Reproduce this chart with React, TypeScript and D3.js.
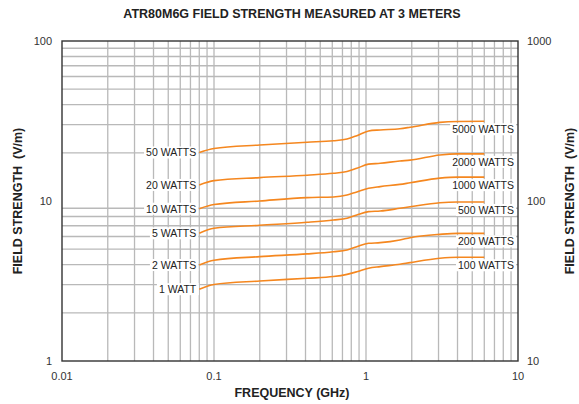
import React, { useEffect, useRef } from "react";
import * as d3 from "d3";

// Frequency sample points (GHz) shared by every power curve
const freqs = [0.08, 0.1, 0.2, 0.41, 0.61, 0.75, 0.87, 1.04, 1.24, 1.67, 1.95, 3.06, 4, 6];

// Field strength (V/m, left axis) for each input power
const w50 = [20.1, 21.3, 22.4, 23.3, 23.8, 24.4, 25.6, 27.4, 27.8, 28.3, 28.9, 31.0, 31.4, 31.5];
const w20 = [12.6, 13.4, 14.0, 14.5, 14.9, 15.3, 16.0, 17.0, 17.2, 17.8, 18.0, 19.4, 19.7, 19.7];
const w10 = [8.95, 9.5, 10.0, 10.5, 10.6, 10.9, 11.4, 12.0, 12.3, 12.7, 13.0, 13.9, 14.1, 14.1];
const w5 = [6.28, 6.75, 7.05, 7.36, 7.61, 7.8, 8.18, 8.58, 8.66, 9.0, 9.2, 9.76, 9.86, 9.86];
const w2 = [3.98, 4.26, 4.49, 4.67, 4.82, 4.94, 5.18, 5.44, 5.49, 5.71, 5.9, 6.19, 6.28, 6.28];
const w1 = [2.81, 3.01, 3.16, 3.29, 3.37, 3.48, 3.61, 3.8, 3.89, 4.02, 4.12, 4.39, 4.45, 4.45];

const curves = [w50, w20, w10, w5, w2, w1];
const leftLabels = ["50 WATTS", "20 WATTS", "10 WATTS", "5 WATTS", "2 WATTS", "1 WATT"];
const rightLabels = ["5000 WATTS", "2000 WATTS", "1000 WATTS", "500 WATTS", "200 WATTS", "100 WATTS"];

const xTicks = [0.01, 0.1, 1, 10];
const xTickLabels = ["0.01", "0.1", "1", "10"];
const leftTicks = [1, 10, 100];
const leftTickLabels = ["1", "10", "100"];
const rightTicks = [10, 100, 1000];
const rightTickLabels = ["10", "100", "1000"];

const W = 579;
const H = 404;
const M = { left: 62, right: 61, top: 41, bottom: 43 };
const FONT = "'Liberation Sans', Arial, Helvetica, sans-serif";

export default function App() {
  const ref = useRef<SVGSVGElement | null>(null);

  useEffect(() => {
    const svg = d3.select(ref.current);
    svg.selectAll("*").remove();

    const x = d3.scaleLog().domain([0.01, 10]).range([M.left, W - M.right]);
    const y = d3.scaleLog().domain([1, 100]).range([H - M.bottom, M.top]);
    const yR = d3.scaleLog().domain([10, 1000]).range([H - M.bottom, M.top]);

    const gridColor = "#b9b9b9";
    const grid = svg.append("g");

    // Horizontal minor/major grid from the log scale
    const yGrid = d3.range(0, 2).flatMap((d) =>
      d3.range(2, 10).map((k) => k * Math.pow(10, d))
    );
    grid
      .selectAll("line.h")
      .data(yGrid)
      .join("line")
      .attr("x1", x(0.01))
      .attr("x2", x(10))
      .attr("y1", (d) => y(d))
      .attr("y2", (d) => y(d))
      .attr("stroke", gridColor)
      .attr("stroke-width", 1.4);

    const xGrid = d3.range(-2, 1).flatMap((d) =>
      d3.range(2, 10).map((k) => k * Math.pow(10, d))
    ).concat([0.1, 1]);
    grid
      .selectAll("line.v")
      .data(xGrid)
      .join("line")
      .attr("x1", (d) => x(d))
      .attr("x2", (d) => x(d))
      .attr("y1", y(1))
      .attr("y2", y(100))
      .attr("stroke", gridColor)
      .attr("stroke-width", 1.3);

    // Frame
    svg
      .append("rect")
      .attr("x", x(0.01))
      .attr("y", y(100))
      .attr("width", x(10) - x(0.01))
      .attr("height", y(1) - y(100))
      .attr("fill", "none")
      .attr("stroke", "#333")
      .attr("stroke-width", 1.4);

    // Power curves
    const line = d3
      .line<number>()
      .x((_, i) => x(freqs[i]))
      .y((d) => y(d))
      .curve(d3.curveMonotoneX);

    svg
      .append("g")
      .selectAll("path")
      .data(curves)
      .join("path")
      .attr("d", (d) => line(d))
      .attr("fill", "none")
      .attr("stroke", "#f5871f")
      .attr("stroke-width", 1.6);

    // Curve labels on white boxes
    const labelG = svg.append("g");
    const addLabel = (text: string, lx: number, ly: number) => {
      const g = labelG.append("g");
      const t = g
        .append("text")
        .attr("x", lx)
        .attr("y", ly)
        .attr("text-anchor", "end")
        .attr("dominant-baseline", "central")
        .attr("font-family", FONT)
        .attr("font-size", 10.5)
        .attr("fill", "#222")
        .text(text);
      const bb = (t.node() as SVGTextElement).getBBox();
      g.insert("rect", "text")
        .attr("x", bb.x - 2)
        .attr("y", bb.y)
        .attr("width", bb.width + 4)
        .attr("height", bb.height)
        .attr("fill", "#fff");
    };

    curves.forEach((c, i) => {
      addLabel(leftLabels[i], x(freqs[0]) - 3, y(c[0]));
      addLabel(rightLabels[i], x(10) - 4, y(c[c.length - 1]) + 8);
    });

    const txt = (sel: any) =>
      sel.attr("font-family", FONT).attr("fill", "#333").attr("font-size", 11);

    // X axis tick labels
    svg
      .append("g")
      .selectAll("text")
      .data(xTicks)
      .join("text")
      .call(txt)
      .attr("x", (d) => x(d))
      .attr("y", y(1) + 19)
      .attr("text-anchor", "middle")
      .text((_, i) => xTickLabels[i]);

    // Left axis tick labels
    svg
      .append("g")
      .selectAll("text")
      .data(leftTicks)
      .join("text")
      .call(txt)
      .attr("x", x(0.01) - 10)
      .attr("y", (d) => y(d))
      .attr("dominant-baseline", "central")
      .attr("text-anchor", "end")
      .text((_, i) => leftTickLabels[i]);

    // Right axis tick labels
    svg
      .append("g")
      .selectAll("text")
      .data(rightTicks)
      .join("text")
      .call(txt)
      .attr("x", x(10) + 9)
      .attr("y", (d) => yR(d))
      .attr("dominant-baseline", "central")
      .attr("text-anchor", "start")
      .text((_, i) => rightTickLabels[i]);

    const bold = (sel: any) =>
      sel
        .attr("font-family", FONT)
        .attr("font-weight", "bold")
        .attr("fill", "#222")
        .attr("font-size", 12.5)
        .attr("text-anchor", "middle");

    svg.append("text").call(bold).attr("x", 292).attr("y", 18)
      .text("ATR80M6G FIELD STRENGTH MEASURED AT 3 METERS");

    svg.append("text").call(bold).attr("x", 292).attr("y", 397)
      .text("FREQUENCY (GHz)");

    const midY = (y(1) + y(100)) / 2;
    svg.append("text").call(bold)
      .attr("transform", `translate(22,${midY}) rotate(-90)`)
      .style("white-space", "pre")
      .text("FIELD STRENGTH  (V/m)");

    svg.append("text").call(bold)
      .attr("transform", `translate(574,${midY}) rotate(-90)`)
      .style("white-space", "pre")
      .text("FIELD STRENGTH  (V/m)");
  }, []);

  return (
    <svg
      ref={ref}
      width={W}
      height={H}
      style={{ position: "absolute", left: 0, top: 0, background: "#fff" }}
    />
  );
}
